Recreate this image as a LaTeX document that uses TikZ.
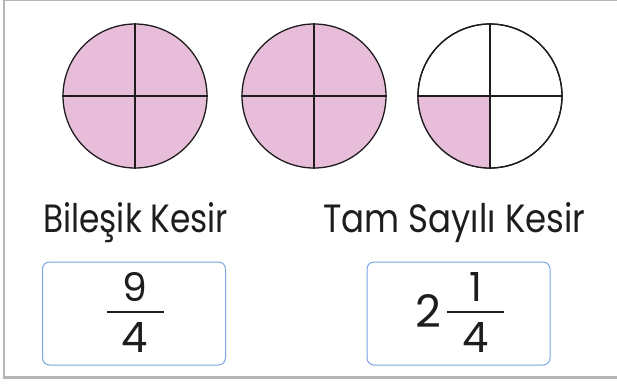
\documentclass[tikz,border=0pt]{standalone}
\usepackage{fontspec}
\setmainfont{Poppins}
\usepackage{graphicx}
\definecolor{pinkfill}{RGB}{232,189,218}
\definecolor{framegray}{RGB}{184,180,180}
\definecolor{boxblue}{RGB}{125,163,224}
\definecolor{ink}{RGB}{30,28,28}
\tikzset{
  pie/.style={circle, draw=ink, line width=1.3pt, minimum size=144pt, inner sep=0pt},
  divider/.style={draw=ink, line width=1.3pt},
  answerbox/.style={draw=boxblue, line width=1pt, rounded corners=7pt, minimum width=183pt, minimum height=103pt, inner sep=0pt},
  label/.style={anchor=base west, inner sep=0pt, text=ink},
  digit/.style={inner sep=0pt, text=ink},
  fracbar/.style={draw=ink, line width=2pt}
}
\begin{document}
\begin{tikzpicture}[x=1pt, y=-1pt]
\useasboundingbox (0,0) rectangle (617,383);
% frame
\draw[framegray, line width=1.2pt] (617,0.6) -- (3,0.6);
\draw[framegray, line width=2.6pt] (4,0) -- (4,377.7);
\draw[framegray, line width=2.6pt] (2.7,377.7) -- (617,377.7);
% circles
\node[pie, fill=pinkfill] (c1) at (135,96) {};
\node[pie, fill=pinkfill] (c2) at (314,96) {};
\node[pie, fill=white] (c3) at (490,96) {};
\fill[pinkfill] (c3.center) -- (c3.west) arc[start angle=180, end angle=270, radius=72pt] -- cycle;
\node[pie] at (c3.center) {};
\foreach \c in {c1,c2,c3}{
  \draw[divider] (\c.north) -- (\c.south);
  \draw[divider] (\c.west) -- (\c.east);
}
% labels
\node[label] (l1) at (43,232) {\resizebox{185pt}{30pt}{Bileşik Kesir}};
\node[label] (l2) at (323,232) {\resizebox{262pt}{30pt}{Tam Sayılı Kesir}};
% boxes
\node[answerbox] (b1) at (134,313.5) {};
\node[answerbox] (b2) at (458.5,313.5) {};
% fraction 9/4
\coordinate (f1l) at (107,312);
\coordinate (f1r) at (164,312);
\draw[fracbar] (f1l) -- (f1r);
\node[digit, anchor=south] (n9) at (135,302) {\resizebox{!}{29pt}{9}};
\node[digit, anchor=south] (d4a) at (135,353) {\resizebox{!}{30pt}{4}};
% fraction 2 1/4
\coordinate (f2l) at (447,312);
\coordinate (f2r) at (504,312);
\draw[fracbar] (f2l) -- (f2r);
\node[digit, anchor=south] (w2) at (428,328) {\resizebox{!}{33pt}{2}};
\node[digit, anchor=south] (n1) at (476,302) {\resizebox{!}{29pt}{1}};
\node[digit, anchor=south] (d4b) at (476,353) {\resizebox{!}{30pt}{4}};
\end{tikzpicture}
\end{document}
